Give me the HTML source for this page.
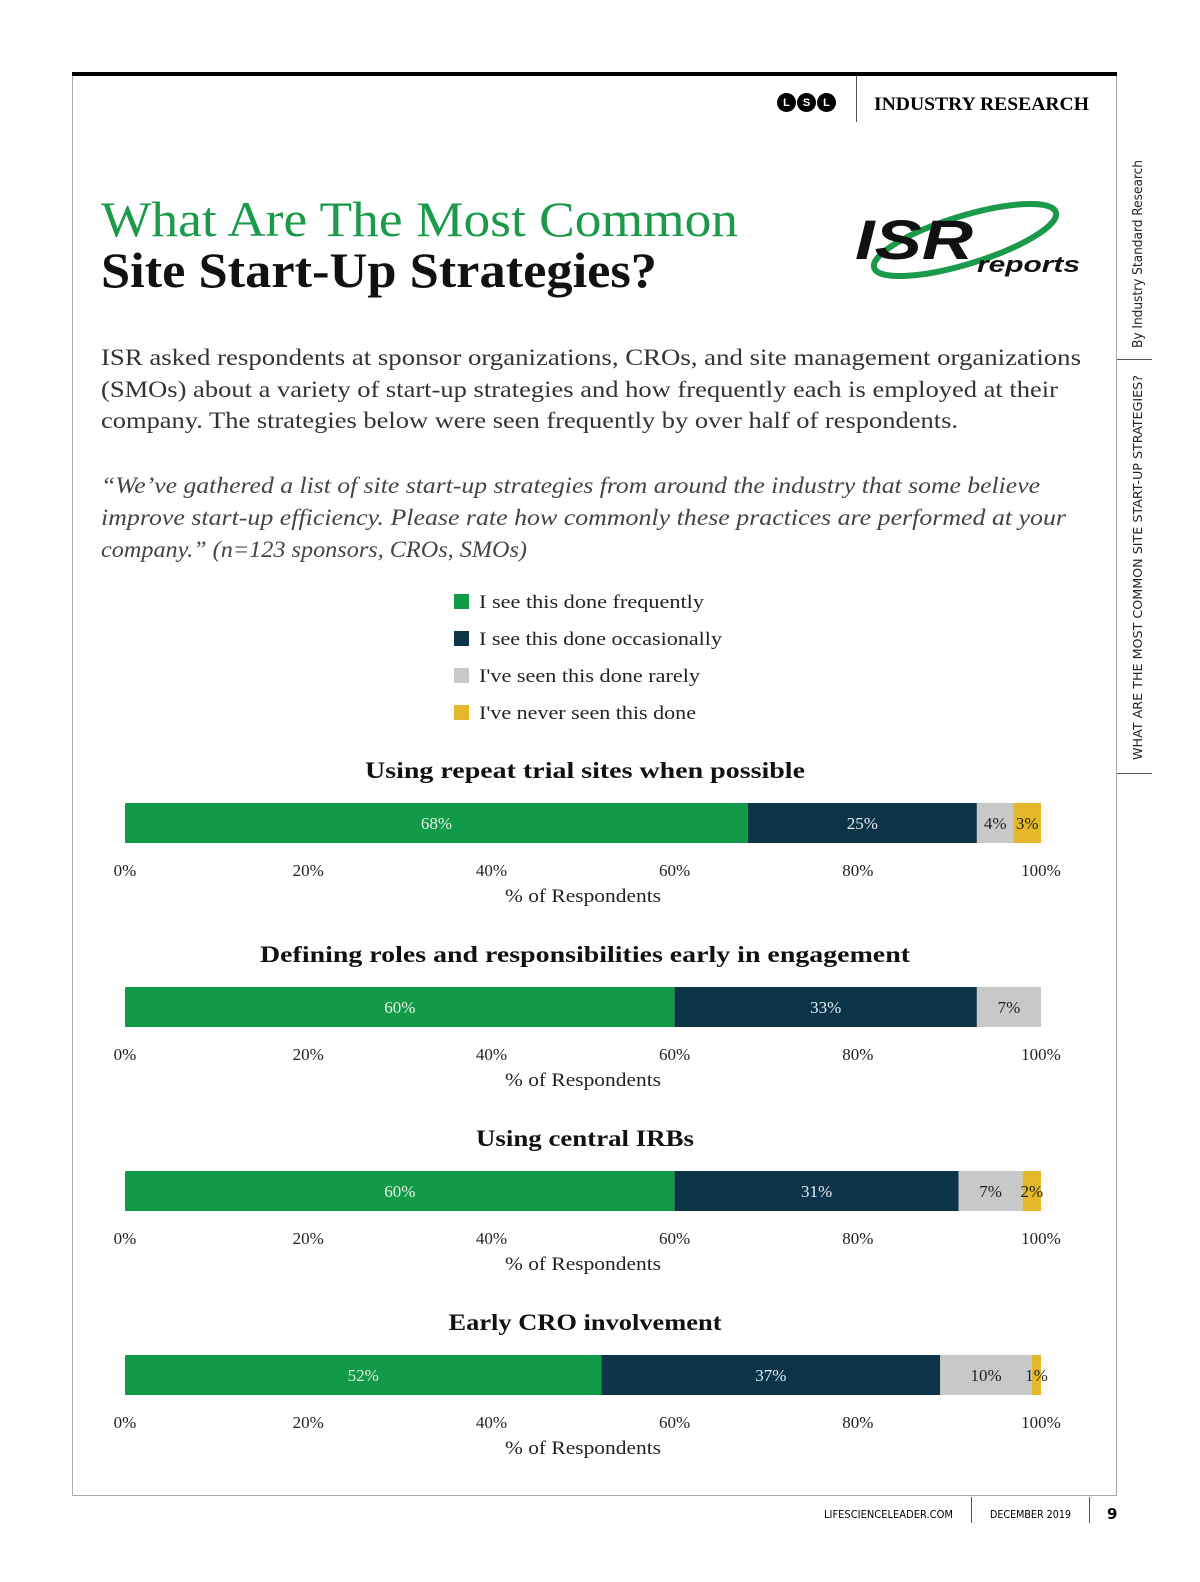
<!DOCTYPE html>
<html><head><meta charset="utf-8">
<style>
body{margin:0;background:#fff;width:1200px;height:1582px;position:relative;overflow:hidden;font-family:"Liberation Serif",serif;}
.abs{position:absolute;}
</style></head><body>
<div class="abs" style="left:72px;top:72px;width:1045px;height:4px;background:#000"></div>
<div class="abs" style="left:72px;top:76px;width:1043px;height:1419px;border-left:1.5px solid #aaa;border-right:1.5px solid #aaa;border-bottom:1.5px solid #aaa"></div>
<div class="abs" style="left:777px;top:93px;display:flex;gap:1px">
<span style="width:19px;height:19px;border-radius:50%;background:#000;color:#fff;font:bold 11px 'Liberation Sans',sans-serif;display:flex;align-items:center;justify-content:center">L</span>
<span style="width:19px;height:19px;border-radius:50%;background:#000;color:#fff;font:bold 11px 'Liberation Sans',sans-serif;display:flex;align-items:center;justify-content:center">S</span>
<span style="width:19px;height:19px;border-radius:50%;background:#000;color:#fff;font:bold 11px 'Liberation Sans',sans-serif;display:flex;align-items:center;justify-content:center">L</span></div>
<div class="abs" style="left:856px;top:76px;width:1px;height:46px;background:#555"></div>
<div class="abs" style="left:1117px;top:359px;width:35px;height:1px;background:#555"></div>
<div class="abs" style="left:1117px;top:773px;width:35px;height:1px;background:#555"></div>
<div class="abs" style="left:971px;top:1497px;width:1px;height:26px;background:#555"></div>
<div class="abs" style="left:1089px;top:1497px;width:1px;height:26px;background:#555"></div>

<svg class="abs" style="left:0;top:0" width="1200" height="1582" font-family="Liberation Serif">
<text x="874" y="110" font-size="19" font-weight="bold" textLength="215" lengthAdjust="spacingAndGlyphs">INDUSTRY RESEARCH</text>
<text x="101" y="236" font-size="50" fill="#1a9a4a" textLength="637" lengthAdjust="spacingAndGlyphs">What Are The Most Common</text>
<text x="101" y="287" font-size="50" font-weight="bold" fill="#111" textLength="556" lengthAdjust="spacingAndGlyphs">Site Start-Up Strategies?</text>
<g>
<ellipse cx="965" cy="240" rx="95" ry="24" transform="rotate(-17 965 240)" fill="none" stroke="#1a9a4a" stroke-width="6"/>
<text x="855" y="259" font-family="Liberation Sans" font-weight="bold" font-style="italic" font-size="56" fill="#111" textLength="118" lengthAdjust="spacingAndGlyphs">ISR</text>
<text x="977" y="272" font-family="Liberation Sans" font-weight="bold" font-style="italic" font-size="22" fill="#111" textLength="103" lengthAdjust="spacingAndGlyphs">reports</text>
</g>
<g font-size="23" fill="#333">
<text x="101" y="365" textLength="980" lengthAdjust="spacingAndGlyphs">ISR asked respondents at sponsor organizations, CROs, and site management organizations</text>
<text x="101" y="397" textLength="957" lengthAdjust="spacingAndGlyphs">(SMOs) about a variety of start-up strategies and how frequently each is employed at their</text>
<text x="101" y="428" textLength="857" lengthAdjust="spacingAndGlyphs">company. The strategies below were seen frequently by over half of respondents.</text>
</g>
<g font-size="23" fill="#444" font-style="italic">
<text x="101" y="493" textLength="939" lengthAdjust="spacingAndGlyphs">“We’ve gathered a list of site start-up strategies from around the industry that some believe</text>
<text x="101" y="525" textLength="965" lengthAdjust="spacingAndGlyphs">improve  start-up efficiency. Please rate how commonly these practices are performed at your</text>
<text x="101" y="557" textLength="426" lengthAdjust="spacingAndGlyphs">company.”  (n=123 sponsors, CROs, SMOs)</text>
</g>
<text transform="translate(1142 348) rotate(-90)" font-family="DejaVu Sans" font-size="13" fill="#222" textLength="188" lengthAdjust="spacingAndGlyphs">By Industry Standard Research</text>
<text transform="translate(1142 760) rotate(-90)" font-family="DejaVu Sans" font-size="12" fill="#222" textLength="385" lengthAdjust="spacingAndGlyphs">WHAT ARE THE MOST COMMON SITE START-UP STRATEGIES?</text>
<text x="824" y="1518" font-family="DejaVu Sans" font-size="10.5" textLength="129" lengthAdjust="spacingAndGlyphs">LIFESCIENCELEADER.COM</text>
<text x="990" y="1518" font-family="DejaVu Sans" font-size="10.5" textLength="81" lengthAdjust="spacingAndGlyphs">DECEMBER 2019</text>
<text x="1107" y="1519" font-family="DejaVu Sans" font-size="15" font-weight="bold">9</text>
</svg>
<svg class="abs" id="chart" style="left:0;top:0" width="1200" height="1582"></svg>
<script>
const categories=["I see this done frequently","I see this done occasionally","I've seen this done rarely","I've never seen this done"];
const colors=["#139a48","#0b3449","#c8c8c8","#e3b92a"];
const textColors=["#e6f5ea","#e6eef2","#222","#222"];
const strategies=["Using repeat trial sites when possible","Defining roles and responsibilities early in engagement","Using central IRBs","Early CRO involvement"];
const frequent=[68,60,60,52];
const occasional=[25,33,31,37];
const rarely=[4,7,7,10];
const never=[3,0,2,1];
const ticks=[0,20,40,60,80,100];
const legendWidths=[225,243,221,217];
const titleWidths=[440,650,218,273];
const svg=document.getElementById('chart');
const NS='http://www.w3.org/2000/svg';
const x0=125,x1=1041;
const xs=v=>x0+(x1-x0)*v/100;
function mk(t,a,txt){const e=document.createElementNS(NS,t);for(const k in a)e.setAttribute(k,a[k]);if(txt!=null)e.textContent=txt;svg.appendChild(e);return e;}
categories.forEach((c,i)=>{
 const y=602+i*37;
 const r=mk('rect',{x:454,y:y-8,width:15,height:15,fill:colors[i]});
 
 
 const t=mk('text',{x:479,y:y+6,'font-size':19,'font-family':'Liberation Serif',fill:'#222',textLength:legendWidths[i],lengthAdjust:'spacingAndGlyphs'},c);
 
 
});
const series=[frequent,occasional,rarely,never];
strategies.forEach((s,j)=>{
 const base=j*184;
 const tt=mk('text',{x:585-titleWidths[j]/2,y:778+base,'font-size':23,'font-weight':'bold','font-family':'Liberation Serif',fill:'#111',textLength:titleWidths[j],lengthAdjust:'spacingAndGlyphs'},s);
 
 
 let cum=0;
 series.forEach((ser,i)=>{
  const v=ser[j]; if(!v) return;
  const r=mk('rect',{x:xs(cum),y:803+base,width:xs(cum+v)-xs(cum),height:40,fill:colors[i]});
  
  
  const lt=mk('text',{x:xs(cum+v/2),y:829+base,'text-anchor':'middle','font-size':17,'font-family':'Liberation Serif',fill:textColors[i]},v+'%');
  
  
  cum+=v;
 });
 ticks.forEach(t=>{
  const k=mk('text',{x:xs(t),y:876+base,'text-anchor':'middle','font-size':17,'font-family':'Liberation Serif',fill:'#222'},t+'%');
  
  
 });
 const at=mk('text',{x:583,y:902+base,'text-anchor':'middle','font-size':19,'font-family':'Liberation Serif',fill:'#222',textLength:156,lengthAdjust:'spacingAndGlyphs'},'% of Respondents');
 
 
});
</script>
</body></html>
